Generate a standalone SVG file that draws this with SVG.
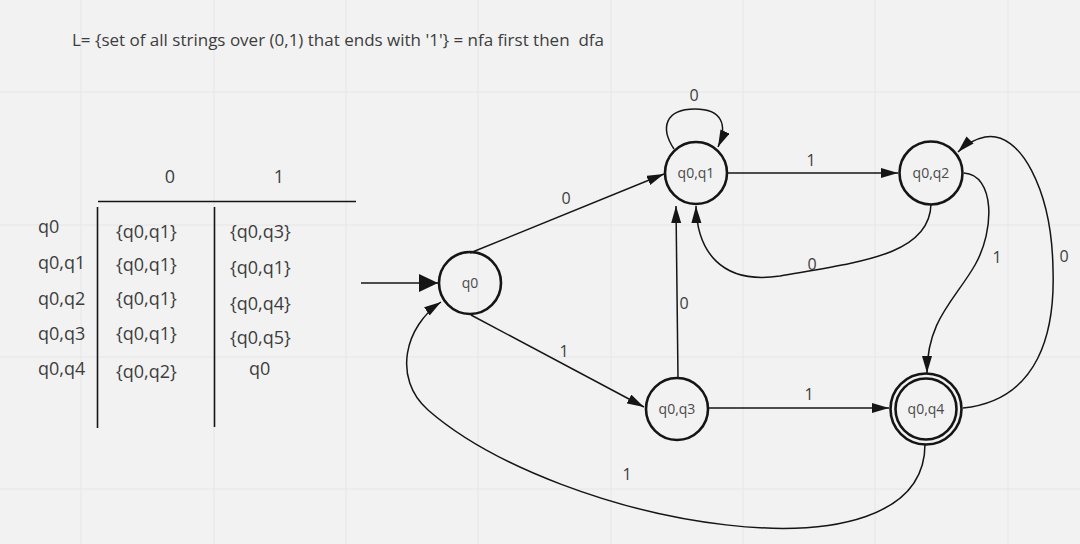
<svg xmlns="http://www.w3.org/2000/svg" width="1080" height="544" viewBox="0 0 1080 544">
<defs>
<style>
.bg{fill:#f2f2f2}
.grid{stroke:#e6e6e6;stroke-width:1}
.t{font-family:"Open Sans","Noto Sans","Liberation Sans",sans-serif;fill:#3d3d3d}
.title{font-size:17px;white-space:pre}
.tab{font-size:18px}
.lbl{font-size:16px;text-anchor:middle}
.nl{font-size:14px;text-anchor:middle;fill:#4a4a4a}
.node{fill:none;stroke:#151515;stroke-width:2.6}
.edge{fill:none;stroke:#151515;stroke-width:1.5}
.rule{stroke:#151515;stroke-width:1.6}
</style>
<marker id="ah" markerUnits="userSpaceOnUse" markerWidth="18" markerHeight="11" refX="17" refY="5" orient="auto"><path d="M0,0 L17,5 L0,10 z" fill="#151515"/></marker>
<marker id="ahBig" markerUnits="userSpaceOnUse" markerWidth="20" markerHeight="19" refX="19" refY="9" orient="auto"><path d="M0,0 L19,9 L0,18 z" fill="#151515"/></marker>
</defs>
<rect class="bg" x="0" y="0" width="1080" height="544"/>
<g id="grid">
<line class="grid" x1="81" y1="0" x2="81" y2="544"/>
<line class="grid" x1="214" y1="0" x2="214" y2="544"/>
<line class="grid" x1="346" y1="0" x2="346" y2="544"/>
<line class="grid" x1="478" y1="0" x2="478" y2="544"/>
<line class="grid" x1="611" y1="0" x2="611" y2="544"/>
<line class="grid" x1="743" y1="0" x2="743" y2="544"/>
<line class="grid" x1="875" y1="0" x2="875" y2="544"/>
<line class="grid" x1="1008" y1="0" x2="1008" y2="544"/>
<line class="grid" x1="0" y1="92" x2="1080" y2="92"/>
<line class="grid" x1="0" y1="225" x2="1080" y2="225"/>
<line class="grid" x1="0" y1="357" x2="1080" y2="357"/>
<line class="grid" x1="0" y1="489" x2="1080" y2="489"/>
</g>
<text id="title" class="t title" x="72" y="46" xml:space="preserve">L= {set of all strings over (0,1) that ends with '1'} = nfa first then  dfa</text>
<g id="table">
<text class="t tab" x="170" y="183" text-anchor="middle">0</text>
<text class="t tab" x="279" y="183" text-anchor="middle">1</text>
<line class="rule" x1="98" y1="201.5" x2="356" y2="201.5"/>
<line class="rule" x1="97.5" y1="207" x2="97.5" y2="428"/>
<line class="rule" x1="214.5" y1="207" x2="214.5" y2="427"/>
<text class="t tab" x="38" y="233">q0</text>
<text class="t tab" x="38" y="269">q0,q1</text>
<text class="t tab" x="38" y="305">q0,q2</text>
<text class="t tab" x="38" y="340">q0,q3</text>
<text class="t tab" x="38" y="375">q0,q4</text>
<text class="t tab" x="116" y="238">{q0,q1}</text>
<text class="t tab" x="116" y="271">{q0,q1}</text>
<text class="t tab" x="116" y="305">{q0,q1}</text>
<text class="t tab" x="116" y="340">{q0,q1}</text>
<text class="t tab" x="116" y="378">{q0,q2}</text>
<text class="t tab" x="230" y="238">{q0,q3}</text>
<text class="t tab" x="230" y="274">{q0,q1}</text>
<text class="t tab" x="230" y="310">{q0,q4}</text>
<text class="t tab" x="230" y="344">{q0,q5}</text>
<text class="t tab" x="249" y="375">q0</text>
</g>
<g id="connectors">
<line class="edge" x1="361" y1="283" x2="438" y2="283" marker-end="url(#ahBig)"/>
<line class="edge" x1="470" y1="253" x2="664" y2="174" marker-end="url(#ah)"/>
<path class="edge" d="M674,149 C660,128 665,109 695,109 C722,109 728,125 718,147" marker-end="url(#ah)"/>
<line class="edge" x1="727" y1="173" x2="898" y2="173" marker-end="url(#ah)"/>
<path class="edge" d="M931,204 C930,255 860,262 780,276 C720,285 697,250 696,206" marker-end="url(#ah)"/>
<line class="edge" x1="678" y1="378" x2="676" y2="206" marker-end="url(#ah)"/>
<line class="edge" x1="471" y1="315" x2="644" y2="407" marker-end="url(#ah)"/>
<line class="edge" x1="709" y1="408" x2="889" y2="408" marker-end="url(#ah)"/>
<path class="edge" d="M964,173 C995,175 995,230 975,265 C955,300 927,320 927,373" marker-end="url(#ah)"/>
<path class="edge" d="M963,408 C1040,400 1055,330 1053,270 C1052,190 1020,130 985,137 C975,139 965,145 958,152" marker-end="url(#ah)"/>
<path class="edge" d="M925,444 C925,590 560,525 428,410 C392,378 405,326 441,302" marker-end="url(#ah)"/>
<text class="t lbl" x="566" y="204">0</text>
<text class="t lbl" x="694" y="101">0</text>
<text class="t lbl" x="811" y="166">1</text>
<text class="t lbl" x="812" y="270">0</text>
<text class="t lbl" x="684" y="309">0</text>
<text class="t lbl" x="564" y="357">1</text>
<text class="t lbl" x="809" y="400">1</text>
<text class="t lbl" x="627" y="480">1</text>
<text class="t lbl" x="997" y="263">1</text>
<text class="t lbl" x="1064" y="262">0</text>
</g>
<g id="q0"><circle class="node" cx="470" cy="283" r="31"/><text class="t nl" x="470" y="288">q0</text></g>
<g id="q0q1"><circle class="node" cx="696" cy="173" r="31"/><text class="t nl" x="696" y="178">q0,q1</text></g>
<g id="q0q2"><circle class="node" cx="931" cy="173" r="31.5"/><text class="t nl" x="931" y="178">q0,q2</text></g>
<g id="q0q3"><circle class="node" cx="677" cy="409" r="31"/><text class="t nl" x="677" y="414">q0,q3</text></g>
<g id="q0q4"><circle class="node" cx="926" cy="409" r="35.5"/><circle class="node" cx="926" cy="409" r="30.5"/><text class="t nl" x="926" y="414">q0,q4</text></g>
</svg>
